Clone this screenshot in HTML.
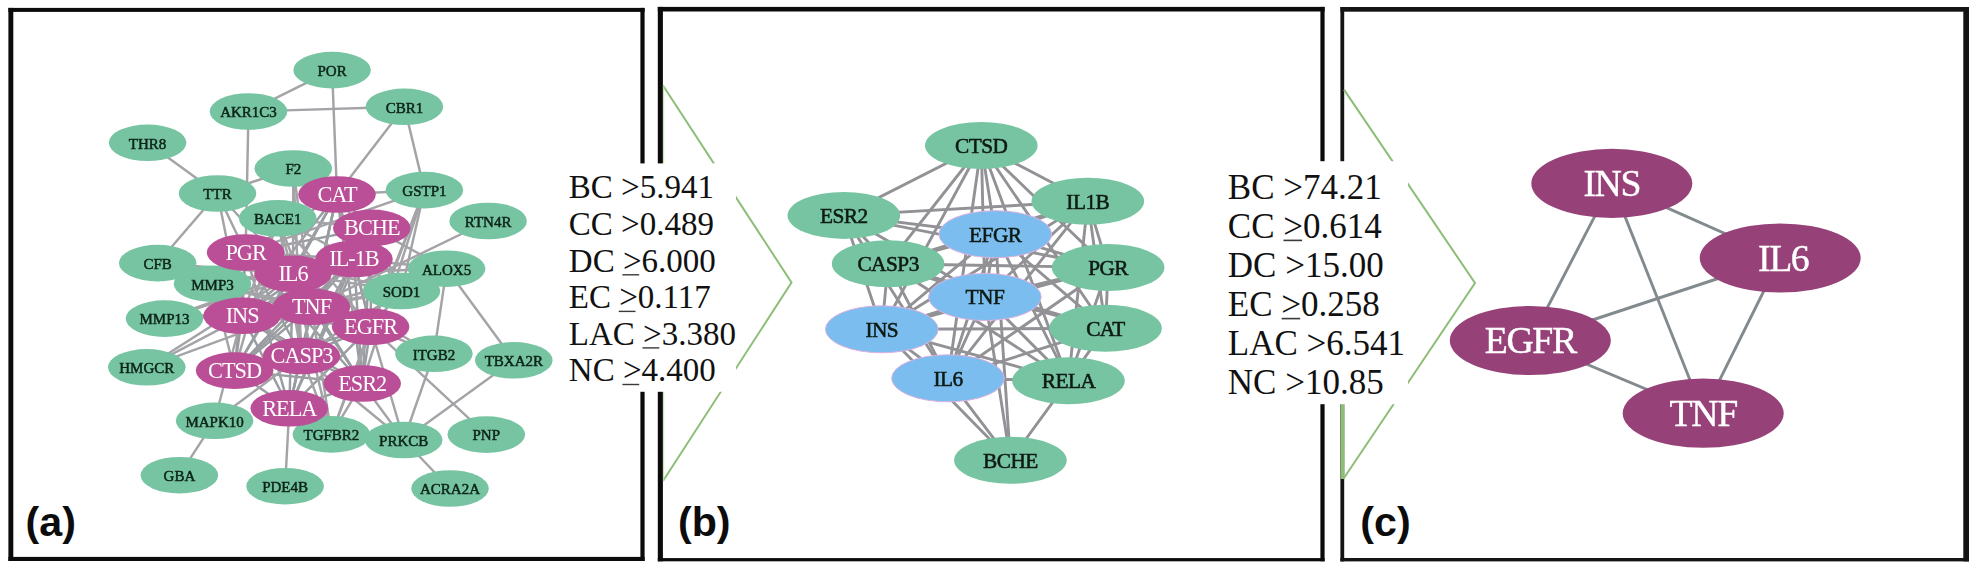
<!DOCTYPE html>
<html><head><meta charset="utf-8"><title>network</title>
<style>
html,body{margin:0;padding:0;background:#fff;}
body{width:1974px;height:568px;overflow:hidden;}
svg{display:block;font-family:"Liberation Serif",serif;}
.lab{font-family:"Liberation Sans",sans-serif;font-weight:bold;}
</style></head><body>
<svg width="1974" height="568" viewBox="0 0 1974 568">
<rect x="0" y="0" width="1974" height="568" fill="#ffffff"/>

<g fill="#0c0a0a"><rect x="8.4" y="7.9" width="4.90" height="553.10"/><rect x="640.4" y="7.9" width="4.20" height="553.10"/><rect x="8.4" y="7.9" width="636.20" height="4.00"/><rect x="8.4" y="556.9" width="636.20" height="4.10"/></g>
<g fill="#0c0a0a"><rect x="657.8" y="6.9" width="5.10" height="554.40"/><rect x="1320.4" y="6.9" width="4.20" height="554.40"/><rect x="657.8" y="6.9" width="666.80" height="4.60"/><rect x="657.8" y="558.1" width="666.80" height="3.20"/></g>
<g fill="#141414"><rect x="1340.4" y="7.0" width="3.80" height="554.40"/><rect x="1963.3" y="7.0" width="5.70" height="554.40"/><rect x="1340.4" y="7.0" width="628.60" height="4.70"/><rect x="1340.4" y="558.0" width="628.60" height="3.40"/></g>
<g fill="none" stroke="#8dbd78" stroke-width="2" stroke-linejoin="miter">
<polyline points="663.0,85.5 791.5,282.5 663.0,481"/>
<polyline points="1344.0,89.6 1475,283 1343.3,479"/>
</g>
<rect x="662.2" y="86" width="1.1" height="395" fill="#2a3a1c"/>
<rect x="663.3" y="86" width="1.0" height="395" fill="#dcecd0"/>
<rect x="1340.6" y="404" width="3.9" height="75" fill="#8dbd78"/>
<g style="filter:blur(0.45px)">
<g stroke-linecap="round">
<line x1="337.0" y1="194.5" x2="371.8" y2="227.9" stroke="#999da1" stroke-width="2.45"/>
<line x1="337.0" y1="194.5" x2="245.6" y2="252.5" stroke="#999da1" stroke-width="2.45"/>
<line x1="337.0" y1="194.5" x2="293.0" y2="273.8" stroke="#999da1" stroke-width="2.45"/>
<line x1="337.0" y1="194.5" x2="354.0" y2="259.0" stroke="#999da1" stroke-width="2.45"/>
<line x1="337.0" y1="194.5" x2="311.5" y2="306.8" stroke="#999da1" stroke-width="2.45"/>
<line x1="337.0" y1="194.5" x2="242.1" y2="315.8" stroke="#999da1" stroke-width="2.45"/>
<line x1="337.0" y1="194.5" x2="370.6" y2="326.8" stroke="#999da1" stroke-width="2.45"/>
<line x1="337.0" y1="194.5" x2="301.5" y2="356.0" stroke="#999da1" stroke-width="2.45"/>
<line x1="337.0" y1="194.5" x2="234.6" y2="370.6" stroke="#999da1" stroke-width="2.45"/>
<line x1="337.0" y1="194.5" x2="362.2" y2="383.5" stroke="#999da1" stroke-width="2.45"/>
<line x1="337.0" y1="194.5" x2="289.3" y2="408.3" stroke="#999da1" stroke-width="2.45"/>
<line x1="371.8" y1="227.9" x2="245.6" y2="252.5" stroke="#999da1" stroke-width="2.45"/>
<line x1="371.8" y1="227.9" x2="293.0" y2="273.8" stroke="#999da1" stroke-width="2.45"/>
<line x1="371.8" y1="227.9" x2="354.0" y2="259.0" stroke="#999da1" stroke-width="2.45"/>
<line x1="371.8" y1="227.9" x2="311.5" y2="306.8" stroke="#999da1" stroke-width="2.45"/>
<line x1="371.8" y1="227.9" x2="242.1" y2="315.8" stroke="#999da1" stroke-width="2.45"/>
<line x1="371.8" y1="227.9" x2="370.6" y2="326.8" stroke="#999da1" stroke-width="2.45"/>
<line x1="371.8" y1="227.9" x2="301.5" y2="356.0" stroke="#999da1" stroke-width="2.45"/>
<line x1="371.8" y1="227.9" x2="234.6" y2="370.6" stroke="#999da1" stroke-width="2.45"/>
<line x1="371.8" y1="227.9" x2="362.2" y2="383.5" stroke="#999da1" stroke-width="2.45"/>
<line x1="371.8" y1="227.9" x2="289.3" y2="408.3" stroke="#999da1" stroke-width="2.45"/>
<line x1="245.6" y1="252.5" x2="293.0" y2="273.8" stroke="#999da1" stroke-width="2.45"/>
<line x1="245.6" y1="252.5" x2="354.0" y2="259.0" stroke="#999da1" stroke-width="2.45"/>
<line x1="245.6" y1="252.5" x2="311.5" y2="306.8" stroke="#999da1" stroke-width="2.45"/>
<line x1="245.6" y1="252.5" x2="242.1" y2="315.8" stroke="#999da1" stroke-width="2.45"/>
<line x1="245.6" y1="252.5" x2="370.6" y2="326.8" stroke="#999da1" stroke-width="2.45"/>
<line x1="245.6" y1="252.5" x2="301.5" y2="356.0" stroke="#999da1" stroke-width="2.45"/>
<line x1="245.6" y1="252.5" x2="234.6" y2="370.6" stroke="#999da1" stroke-width="2.45"/>
<line x1="245.6" y1="252.5" x2="362.2" y2="383.5" stroke="#999da1" stroke-width="2.45"/>
<line x1="245.6" y1="252.5" x2="289.3" y2="408.3" stroke="#999da1" stroke-width="2.45"/>
<line x1="293.0" y1="273.8" x2="354.0" y2="259.0" stroke="#999da1" stroke-width="2.45"/>
<line x1="293.0" y1="273.8" x2="311.5" y2="306.8" stroke="#999da1" stroke-width="2.45"/>
<line x1="293.0" y1="273.8" x2="242.1" y2="315.8" stroke="#999da1" stroke-width="2.45"/>
<line x1="293.0" y1="273.8" x2="370.6" y2="326.8" stroke="#999da1" stroke-width="2.45"/>
<line x1="293.0" y1="273.8" x2="301.5" y2="356.0" stroke="#999da1" stroke-width="2.45"/>
<line x1="293.0" y1="273.8" x2="234.6" y2="370.6" stroke="#999da1" stroke-width="2.45"/>
<line x1="293.0" y1="273.8" x2="362.2" y2="383.5" stroke="#999da1" stroke-width="2.45"/>
<line x1="293.0" y1="273.8" x2="289.3" y2="408.3" stroke="#999da1" stroke-width="2.45"/>
<line x1="354.0" y1="259.0" x2="311.5" y2="306.8" stroke="#999da1" stroke-width="2.45"/>
<line x1="354.0" y1="259.0" x2="242.1" y2="315.8" stroke="#999da1" stroke-width="2.45"/>
<line x1="354.0" y1="259.0" x2="370.6" y2="326.8" stroke="#999da1" stroke-width="2.45"/>
<line x1="354.0" y1="259.0" x2="301.5" y2="356.0" stroke="#999da1" stroke-width="2.45"/>
<line x1="354.0" y1="259.0" x2="234.6" y2="370.6" stroke="#999da1" stroke-width="2.45"/>
<line x1="354.0" y1="259.0" x2="362.2" y2="383.5" stroke="#999da1" stroke-width="2.45"/>
<line x1="354.0" y1="259.0" x2="289.3" y2="408.3" stroke="#999da1" stroke-width="2.45"/>
<line x1="311.5" y1="306.8" x2="242.1" y2="315.8" stroke="#999da1" stroke-width="2.45"/>
<line x1="311.5" y1="306.8" x2="370.6" y2="326.8" stroke="#999da1" stroke-width="2.45"/>
<line x1="311.5" y1="306.8" x2="301.5" y2="356.0" stroke="#999da1" stroke-width="2.45"/>
<line x1="311.5" y1="306.8" x2="234.6" y2="370.6" stroke="#999da1" stroke-width="2.45"/>
<line x1="311.5" y1="306.8" x2="362.2" y2="383.5" stroke="#999da1" stroke-width="2.45"/>
<line x1="311.5" y1="306.8" x2="289.3" y2="408.3" stroke="#999da1" stroke-width="2.45"/>
<line x1="242.1" y1="315.8" x2="370.6" y2="326.8" stroke="#999da1" stroke-width="2.45"/>
<line x1="242.1" y1="315.8" x2="301.5" y2="356.0" stroke="#999da1" stroke-width="2.45"/>
<line x1="242.1" y1="315.8" x2="234.6" y2="370.6" stroke="#999da1" stroke-width="2.45"/>
<line x1="242.1" y1="315.8" x2="362.2" y2="383.5" stroke="#999da1" stroke-width="2.45"/>
<line x1="242.1" y1="315.8" x2="289.3" y2="408.3" stroke="#999da1" stroke-width="2.45"/>
<line x1="370.6" y1="326.8" x2="301.5" y2="356.0" stroke="#999da1" stroke-width="2.45"/>
<line x1="370.6" y1="326.8" x2="234.6" y2="370.6" stroke="#999da1" stroke-width="2.45"/>
<line x1="370.6" y1="326.8" x2="362.2" y2="383.5" stroke="#999da1" stroke-width="2.45"/>
<line x1="370.6" y1="326.8" x2="289.3" y2="408.3" stroke="#999da1" stroke-width="2.45"/>
<line x1="301.5" y1="356.0" x2="234.6" y2="370.6" stroke="#999da1" stroke-width="2.45"/>
<line x1="301.5" y1="356.0" x2="362.2" y2="383.5" stroke="#999da1" stroke-width="2.45"/>
<line x1="301.5" y1="356.0" x2="289.3" y2="408.3" stroke="#999da1" stroke-width="2.45"/>
<line x1="234.6" y1="370.6" x2="362.2" y2="383.5" stroke="#999da1" stroke-width="2.45"/>
<line x1="234.6" y1="370.6" x2="289.3" y2="408.3" stroke="#999da1" stroke-width="2.45"/>
<line x1="362.2" y1="383.5" x2="289.3" y2="408.3" stroke="#999da1" stroke-width="2.45"/>
<line x1="332.1" y1="70.1" x2="248.5" y2="111.5" stroke="#a4a4a8" stroke-width="2.45"/>
<line x1="332.1" y1="70.1" x2="337.0" y2="194.5" stroke="#a4a4a8" stroke-width="2.45"/>
<line x1="248.5" y1="111.5" x2="404.4" y2="106.8" stroke="#a4a4a8" stroke-width="2.45"/>
<line x1="248.5" y1="111.5" x2="245.6" y2="252.5" stroke="#a4a4a8" stroke-width="2.45"/>
<line x1="404.4" y1="106.8" x2="337.0" y2="194.5" stroke="#a4a4a8" stroke-width="2.45"/>
<line x1="404.4" y1="106.8" x2="424.4" y2="190.1" stroke="#a4a4a8" stroke-width="2.45"/>
<line x1="337.0" y1="194.5" x2="424.4" y2="190.1" stroke="#a4a4a8" stroke-width="2.45"/>
<line x1="147.6" y1="142.8" x2="217.5" y2="193.5" stroke="#a4a4a8" stroke-width="2.45"/>
<line x1="217.5" y1="193.5" x2="157.7" y2="263.1" stroke="#a4a4a8" stroke-width="2.45"/>
<line x1="217.5" y1="193.5" x2="293.3" y2="168.5" stroke="#a4a4a8" stroke-width="2.45"/>
<line x1="217.5" y1="193.5" x2="245.6" y2="252.5" stroke="#a4a4a8" stroke-width="2.45"/>
<line x1="217.5" y1="193.5" x2="293.0" y2="273.8" stroke="#a4a4a8" stroke-width="2.45"/>
<line x1="217.5" y1="193.5" x2="242.1" y2="315.8" stroke="#a4a4a8" stroke-width="2.45"/>
<line x1="293.3" y1="168.5" x2="293.0" y2="273.8" stroke="#a4a4a8" stroke-width="2.45"/>
<line x1="293.3" y1="168.5" x2="311.5" y2="306.8" stroke="#a4a4a8" stroke-width="2.45"/>
<line x1="293.3" y1="168.5" x2="301.5" y2="356.0" stroke="#a4a4a8" stroke-width="2.45"/>
<line x1="277.7" y1="218.3" x2="293.0" y2="273.8" stroke="#a4a4a8" stroke-width="2.45"/>
<line x1="277.7" y1="218.3" x2="311.5" y2="306.8" stroke="#a4a4a8" stroke-width="2.45"/>
<line x1="277.7" y1="218.3" x2="354.0" y2="259.0" stroke="#a4a4a8" stroke-width="2.45"/>
<line x1="277.7" y1="218.3" x2="242.1" y2="315.8" stroke="#a4a4a8" stroke-width="2.45"/>
<line x1="277.7" y1="218.3" x2="370.6" y2="326.8" stroke="#a4a4a8" stroke-width="2.45"/>
<line x1="277.7" y1="218.3" x2="301.5" y2="356.0" stroke="#a4a4a8" stroke-width="2.45"/>
<line x1="277.7" y1="218.3" x2="234.6" y2="370.6" stroke="#a4a4a8" stroke-width="2.45"/>
<line x1="277.7" y1="218.3" x2="371.8" y2="227.9" stroke="#a4a4a8" stroke-width="2.45"/>
<line x1="424.4" y1="190.1" x2="245.6" y2="252.5" stroke="#a4a4a8" stroke-width="2.45"/>
<line x1="424.4" y1="190.1" x2="370.6" y2="326.8" stroke="#a4a4a8" stroke-width="2.45"/>
<line x1="424.4" y1="190.1" x2="362.2" y2="383.5" stroke="#a4a4a8" stroke-width="2.45"/>
<line x1="424.4" y1="190.1" x2="331.4" y2="434.4" stroke="#a4a4a8" stroke-width="2.45"/>
<line x1="424.4" y1="190.1" x2="401.5" y2="291.0" stroke="#a4a4a8" stroke-width="2.45"/>
<line x1="488.1" y1="221.0" x2="311.5" y2="306.8" stroke="#a4a4a8" stroke-width="2.45"/>
<line x1="446.6" y1="268.7" x2="513.8" y2="360.3" stroke="#a4a4a8" stroke-width="2.45"/>
<line x1="446.6" y1="268.7" x2="433.9" y2="353.8" stroke="#a4a4a8" stroke-width="2.45"/>
<line x1="446.6" y1="268.7" x2="354.0" y2="259.0" stroke="#a4a4a8" stroke-width="2.45"/>
<line x1="446.6" y1="268.7" x2="371.8" y2="227.9" stroke="#a4a4a8" stroke-width="2.45"/>
<line x1="446.6" y1="268.7" x2="311.5" y2="306.8" stroke="#a4a4a8" stroke-width="2.45"/>
<line x1="446.6" y1="268.7" x2="293.0" y2="273.8" stroke="#a4a4a8" stroke-width="2.45"/>
<line x1="401.5" y1="291.0" x2="311.5" y2="306.8" stroke="#a4a4a8" stroke-width="2.45"/>
<line x1="401.5" y1="291.0" x2="293.0" y2="273.8" stroke="#a4a4a8" stroke-width="2.45"/>
<line x1="401.5" y1="291.0" x2="354.0" y2="259.0" stroke="#a4a4a8" stroke-width="2.45"/>
<line x1="401.5" y1="291.0" x2="337.0" y2="194.5" stroke="#a4a4a8" stroke-width="2.45"/>
<line x1="401.5" y1="291.0" x2="242.1" y2="315.8" stroke="#a4a4a8" stroke-width="2.45"/>
<line x1="401.5" y1="291.0" x2="370.6" y2="326.8" stroke="#a4a4a8" stroke-width="2.45"/>
<line x1="401.5" y1="291.0" x2="301.5" y2="356.0" stroke="#a4a4a8" stroke-width="2.45"/>
<line x1="401.5" y1="291.0" x2="371.8" y2="227.9" stroke="#a4a4a8" stroke-width="2.45"/>
<line x1="401.5" y1="291.0" x2="245.6" y2="252.5" stroke="#a4a4a8" stroke-width="2.45"/>
<line x1="157.7" y1="263.1" x2="212.5" y2="283.7" stroke="#a4a4a8" stroke-width="2.45"/>
<line x1="157.7" y1="263.1" x2="293.0" y2="273.8" stroke="#a4a4a8" stroke-width="2.45"/>
<line x1="212.5" y1="283.7" x2="293.0" y2="273.8" stroke="#a4a4a8" stroke-width="2.45"/>
<line x1="212.5" y1="283.7" x2="311.5" y2="306.8" stroke="#a4a4a8" stroke-width="2.45"/>
<line x1="212.5" y1="283.7" x2="242.1" y2="315.8" stroke="#a4a4a8" stroke-width="2.45"/>
<line x1="212.5" y1="283.7" x2="354.0" y2="259.0" stroke="#a4a4a8" stroke-width="2.45"/>
<line x1="212.5" y1="283.7" x2="301.5" y2="356.0" stroke="#a4a4a8" stroke-width="2.45"/>
<line x1="212.5" y1="283.7" x2="234.6" y2="370.6" stroke="#a4a4a8" stroke-width="2.45"/>
<line x1="212.5" y1="283.7" x2="370.6" y2="326.8" stroke="#a4a4a8" stroke-width="2.45"/>
<line x1="212.5" y1="283.7" x2="245.6" y2="252.5" stroke="#a4a4a8" stroke-width="2.45"/>
<line x1="164.5" y1="318.6" x2="242.1" y2="315.8" stroke="#a4a4a8" stroke-width="2.45"/>
<line x1="164.5" y1="318.6" x2="311.5" y2="306.8" stroke="#a4a4a8" stroke-width="2.45"/>
<line x1="164.5" y1="318.6" x2="293.0" y2="273.8" stroke="#a4a4a8" stroke-width="2.45"/>
<line x1="164.5" y1="318.6" x2="354.0" y2="259.0" stroke="#a4a4a8" stroke-width="2.45"/>
<line x1="146.8" y1="367.3" x2="311.5" y2="306.8" stroke="#a4a4a8" stroke-width="2.45"/>
<line x1="146.8" y1="367.3" x2="293.0" y2="273.8" stroke="#a4a4a8" stroke-width="2.45"/>
<line x1="146.8" y1="367.3" x2="354.0" y2="259.0" stroke="#a4a4a8" stroke-width="2.45"/>
<line x1="214.6" y1="420.8" x2="301.5" y2="356.0" stroke="#a4a4a8" stroke-width="2.45"/>
<line x1="214.6" y1="420.8" x2="179.4" y2="475.2" stroke="#a4a4a8" stroke-width="2.45"/>
<line x1="214.6" y1="420.8" x2="242.1" y2="315.8" stroke="#a4a4a8" stroke-width="2.45"/>
<line x1="289.3" y1="408.3" x2="285.1" y2="486.2" stroke="#a4a4a8" stroke-width="2.45"/>
<line x1="331.4" y1="434.4" x2="362.2" y2="383.5" stroke="#a4a4a8" stroke-width="2.45"/>
<line x1="331.4" y1="434.4" x2="301.5" y2="356.0" stroke="#a4a4a8" stroke-width="2.45"/>
<line x1="331.4" y1="434.4" x2="370.6" y2="326.8" stroke="#a4a4a8" stroke-width="2.45"/>
<line x1="331.4" y1="434.4" x2="311.5" y2="306.8" stroke="#a4a4a8" stroke-width="2.45"/>
<line x1="331.4" y1="434.4" x2="293.0" y2="273.8" stroke="#a4a4a8" stroke-width="2.45"/>
<line x1="403.7" y1="440.0" x2="362.2" y2="383.5" stroke="#a4a4a8" stroke-width="2.45"/>
<line x1="403.7" y1="440.0" x2="370.6" y2="326.8" stroke="#a4a4a8" stroke-width="2.45"/>
<line x1="403.7" y1="440.0" x2="433.9" y2="353.8" stroke="#a4a4a8" stroke-width="2.45"/>
<line x1="403.7" y1="440.0" x2="513.8" y2="360.3" stroke="#a4a4a8" stroke-width="2.45"/>
<line x1="403.7" y1="440.0" x2="450.0" y2="488.5" stroke="#a4a4a8" stroke-width="2.45"/>
<line x1="403.7" y1="440.0" x2="301.5" y2="356.0" stroke="#a4a4a8" stroke-width="2.45"/>
<line x1="486.3" y1="434.6" x2="370.6" y2="326.8" stroke="#a4a4a8" stroke-width="2.45"/>
<line x1="433.9" y1="353.8" x2="370.6" y2="326.8" stroke="#a4a4a8" stroke-width="2.45"/>
<line x1="433.9" y1="353.8" x2="293.0" y2="273.8" stroke="#a4a4a8" stroke-width="2.45"/>
</g>
<ellipse cx="332.1" cy="70.1" rx="38.8" ry="18.3" fill="#77c4a2"/>
<ellipse cx="248.5" cy="111.5" rx="38.8" ry="18.3" fill="#77c4a2"/>
<ellipse cx="404.4" cy="106.8" rx="38.8" ry="18.3" fill="#77c4a2"/>
<ellipse cx="147.6" cy="142.8" rx="38.8" ry="18.3" fill="#77c4a2"/>
<ellipse cx="293.3" cy="168.5" rx="38.8" ry="18.3" fill="#77c4a2"/>
<ellipse cx="217.5" cy="193.5" rx="38.8" ry="18.3" fill="#77c4a2"/>
<ellipse cx="424.4" cy="190.1" rx="38.8" ry="18.3" fill="#77c4a2"/>
<ellipse cx="277.7" cy="218.3" rx="38.8" ry="18.3" fill="#77c4a2"/>
<ellipse cx="488.1" cy="221.0" rx="38.8" ry="18.3" fill="#77c4a2"/>
<ellipse cx="157.7" cy="263.1" rx="38.8" ry="18.3" fill="#77c4a2"/>
<ellipse cx="212.5" cy="283.7" rx="38.8" ry="18.3" fill="#77c4a2"/>
<ellipse cx="446.6" cy="268.7" rx="38.8" ry="18.3" fill="#77c4a2"/>
<ellipse cx="401.5" cy="291.0" rx="38.8" ry="18.3" fill="#77c4a2"/>
<ellipse cx="164.5" cy="318.6" rx="38.8" ry="18.3" fill="#77c4a2"/>
<ellipse cx="146.8" cy="367.3" rx="38.8" ry="18.3" fill="#77c4a2"/>
<ellipse cx="433.9" cy="353.8" rx="38.8" ry="18.3" fill="#77c4a2"/>
<ellipse cx="513.8" cy="360.3" rx="38.8" ry="18.3" fill="#77c4a2"/>
<ellipse cx="214.6" cy="420.8" rx="38.8" ry="18.3" fill="#77c4a2"/>
<ellipse cx="331.4" cy="434.4" rx="38.8" ry="18.3" fill="#77c4a2"/>
<ellipse cx="403.7" cy="440.0" rx="38.8" ry="18.3" fill="#77c4a2"/>
<ellipse cx="486.3" cy="434.6" rx="38.8" ry="18.3" fill="#77c4a2"/>
<ellipse cx="179.4" cy="475.2" rx="38.8" ry="18.3" fill="#77c4a2"/>
<ellipse cx="285.1" cy="486.2" rx="38.8" ry="18.3" fill="#77c4a2"/>
<ellipse cx="450.0" cy="488.5" rx="38.8" ry="18.3" fill="#77c4a2"/>
<ellipse cx="337.0" cy="194.5" rx="38.8" ry="18.3" fill="#ba4f97"/>
<ellipse cx="371.8" cy="227.9" rx="38.8" ry="18.3" fill="#ba4f97"/>
<ellipse cx="245.6" cy="252.5" rx="38.8" ry="18.3" fill="#ba4f97"/>
<ellipse cx="293.0" cy="273.8" rx="38.8" ry="18.3" fill="#ba4f97"/>
<ellipse cx="354.0" cy="259.0" rx="38.8" ry="18.3" fill="#ba4f97"/>
<ellipse cx="311.5" cy="306.8" rx="38.8" ry="18.3" fill="#ba4f97"/>
<ellipse cx="242.1" cy="315.8" rx="38.8" ry="18.3" fill="#ba4f97"/>
<ellipse cx="370.6" cy="326.8" rx="38.8" ry="18.3" fill="#ba4f97"/>
<ellipse cx="301.5" cy="356.0" rx="38.8" ry="18.3" fill="#ba4f97"/>
<ellipse cx="234.6" cy="370.6" rx="38.8" ry="18.3" fill="#ba4f97"/>
<ellipse cx="362.2" cy="383.5" rx="38.8" ry="18.3" fill="#ba4f97"/>
<ellipse cx="289.3" cy="408.3" rx="38.8" ry="18.3" fill="#ba4f97"/>
<g stroke="#0c2418" stroke-width="0.5">
<text x="332.1" y="75.9" font-size="15.0" fill="#0c2418" letter-spacing="0" text-anchor="middle">POR</text>
<text x="248.5" y="117.3" font-size="15.0" fill="#0c2418" letter-spacing="0" text-anchor="middle">AKR1C3</text>
<text x="404.4" y="112.6" font-size="15.0" fill="#0c2418" letter-spacing="0" text-anchor="middle">CBR1</text>
<text x="147.6" y="148.6" font-size="15.0" fill="#0c2418" letter-spacing="0" text-anchor="middle">THR8</text>
<text x="293.3" y="174.3" font-size="15.0" fill="#0c2418" letter-spacing="0" text-anchor="middle">F2</text>
<text x="217.5" y="199.3" font-size="15.0" fill="#0c2418" letter-spacing="0" text-anchor="middle">TTR</text>
<text x="424.4" y="195.9" font-size="15.0" fill="#0c2418" letter-spacing="0" text-anchor="middle">GSTP1</text>
<text x="277.7" y="224.1" font-size="15.0" fill="#0c2418" letter-spacing="0" text-anchor="middle">BACE1</text>
<text x="488.1" y="226.8" font-size="15.0" fill="#0c2418" letter-spacing="0" text-anchor="middle">RTN4R</text>
<text x="157.7" y="268.9" font-size="15.0" fill="#0c2418" letter-spacing="0" text-anchor="middle">CFB</text>
<text x="212.5" y="289.5" font-size="15.0" fill="#0c2418" letter-spacing="0" text-anchor="middle">MMP3</text>
<text x="446.6" y="274.5" font-size="15.0" fill="#0c2418" letter-spacing="0" text-anchor="middle">ALOX5</text>
<text x="401.5" y="296.8" font-size="15.0" fill="#0c2418" letter-spacing="0" text-anchor="middle">SOD1</text>
<text x="164.5" y="324.4" font-size="15.0" fill="#0c2418" letter-spacing="0" text-anchor="middle">MMP13</text>
<text x="146.8" y="373.1" font-size="15.0" fill="#0c2418" letter-spacing="0" text-anchor="middle">HMGCR</text>
<text x="433.9" y="359.6" font-size="15.0" fill="#0c2418" letter-spacing="0" text-anchor="middle">ITGB2</text>
<text x="513.8" y="366.1" font-size="15.0" fill="#0c2418" letter-spacing="0" text-anchor="middle">TBXA2R</text>
<text x="214.6" y="426.6" font-size="15.0" fill="#0c2418" letter-spacing="0" text-anchor="middle">MAPK10</text>
<text x="331.4" y="440.2" font-size="15.0" fill="#0c2418" letter-spacing="0" text-anchor="middle">TGFBR2</text>
<text x="403.7" y="445.8" font-size="15.0" fill="#0c2418" letter-spacing="0" text-anchor="middle">PRKCB</text>
<text x="486.3" y="440.4" font-size="15.0" fill="#0c2418" letter-spacing="0" text-anchor="middle">PNP</text>
<text x="179.4" y="481.0" font-size="15.0" fill="#0c2418" letter-spacing="0" text-anchor="middle">GBA</text>
<text x="285.1" y="492.0" font-size="15.0" fill="#0c2418" letter-spacing="0" text-anchor="middle">PDE4B</text>
<text x="450.0" y="494.3" font-size="15.0" fill="#0c2418" letter-spacing="0" text-anchor="middle">ACRA2A</text>
</g>
<text x="337.0" y="201.9" font-size="22.3" fill="#ffffff" letter-spacing="-1.0" text-anchor="middle">CAT</text>
<text x="371.8" y="235.3" font-size="22.3" fill="#ffffff" letter-spacing="-1.0" text-anchor="middle">BCHE</text>
<text x="245.6" y="259.9" font-size="22.3" fill="#ffffff" letter-spacing="-1.0" text-anchor="middle">PGR</text>
<text x="293.0" y="281.2" font-size="22.3" fill="#ffffff" letter-spacing="-1.0" text-anchor="middle">IL6</text>
<text x="354.0" y="266.4" font-size="22.3" fill="#ffffff" letter-spacing="-1.0" text-anchor="middle">IL-1B</text>
<text x="311.5" y="314.2" font-size="22.3" fill="#ffffff" letter-spacing="-1.0" text-anchor="middle">TNF</text>
<text x="242.1" y="323.2" font-size="22.3" fill="#ffffff" letter-spacing="-1.0" text-anchor="middle">INS</text>
<text x="370.6" y="334.2" font-size="22.3" fill="#ffffff" letter-spacing="-1.0" text-anchor="middle">EGFR</text>
<text x="301.5" y="363.4" font-size="22.3" fill="#ffffff" letter-spacing="-1.0" text-anchor="middle">CASP3</text>
<text x="234.6" y="378.0" font-size="22.3" fill="#ffffff" letter-spacing="-1.0" text-anchor="middle">CTSD</text>
<text x="362.2" y="390.9" font-size="22.3" fill="#ffffff" letter-spacing="-1.0" text-anchor="middle">ESR2</text>
<text x="289.3" y="415.7" font-size="22.3" fill="#ffffff" letter-spacing="-1.0" text-anchor="middle">RELA</text>
<g stroke-linecap="round">
<line x1="981.3" y1="145.5" x2="843.8" y2="215.4" stroke="#929296" stroke-width="2.9"/>
<line x1="981.3" y1="145.5" x2="1087.8" y2="201.3" stroke="#929296" stroke-width="2.9"/>
<line x1="981.3" y1="145.5" x2="888.1" y2="263.8" stroke="#929296" stroke-width="2.9"/>
<line x1="981.3" y1="145.5" x2="1108.1" y2="267.5" stroke="#929296" stroke-width="2.9"/>
<line x1="981.3" y1="145.5" x2="1105.5" y2="328.3" stroke="#929296" stroke-width="2.9"/>
<line x1="981.3" y1="145.5" x2="1068.5" y2="380.7" stroke="#929296" stroke-width="2.9"/>
<line x1="981.3" y1="145.5" x2="995.3" y2="234.2" stroke="#929296" stroke-width="2.9"/>
<line x1="981.3" y1="145.5" x2="984.9" y2="297.0" stroke="#929296" stroke-width="2.9"/>
<line x1="981.3" y1="145.5" x2="881.8" y2="329.3" stroke="#929296" stroke-width="2.9"/>
<line x1="981.3" y1="145.5" x2="948.0" y2="378.3" stroke="#929296" stroke-width="2.9"/>
<line x1="843.8" y1="215.4" x2="1087.8" y2="201.3" stroke="#929296" stroke-width="2.9"/>
<line x1="843.8" y1="215.4" x2="888.1" y2="263.8" stroke="#929296" stroke-width="2.9"/>
<line x1="843.8" y1="215.4" x2="1108.1" y2="267.5" stroke="#929296" stroke-width="2.9"/>
<line x1="843.8" y1="215.4" x2="995.3" y2="234.2" stroke="#929296" stroke-width="2.9"/>
<line x1="843.8" y1="215.4" x2="984.9" y2="297.0" stroke="#929296" stroke-width="2.9"/>
<line x1="843.8" y1="215.4" x2="881.8" y2="329.3" stroke="#929296" stroke-width="2.9"/>
<line x1="843.8" y1="215.4" x2="948.0" y2="378.3" stroke="#929296" stroke-width="2.9"/>
<line x1="1087.8" y1="201.3" x2="888.1" y2="263.8" stroke="#929296" stroke-width="2.9"/>
<line x1="1087.8" y1="201.3" x2="1108.1" y2="267.5" stroke="#929296" stroke-width="2.9"/>
<line x1="1087.8" y1="201.3" x2="1105.5" y2="328.3" stroke="#929296" stroke-width="2.9"/>
<line x1="1087.8" y1="201.3" x2="1068.5" y2="380.7" stroke="#929296" stroke-width="2.9"/>
<line x1="1087.8" y1="201.3" x2="995.3" y2="234.2" stroke="#929296" stroke-width="2.9"/>
<line x1="1087.8" y1="201.3" x2="984.9" y2="297.0" stroke="#929296" stroke-width="2.9"/>
<line x1="1087.8" y1="201.3" x2="881.8" y2="329.3" stroke="#929296" stroke-width="2.9"/>
<line x1="1087.8" y1="201.3" x2="948.0" y2="378.3" stroke="#929296" stroke-width="2.9"/>
<line x1="888.1" y1="263.8" x2="1108.1" y2="267.5" stroke="#929296" stroke-width="2.9"/>
<line x1="888.1" y1="263.8" x2="1105.5" y2="328.3" stroke="#929296" stroke-width="2.9"/>
<line x1="888.1" y1="263.8" x2="1068.5" y2="380.7" stroke="#929296" stroke-width="2.9"/>
<line x1="888.1" y1="263.8" x2="995.3" y2="234.2" stroke="#929296" stroke-width="2.9"/>
<line x1="888.1" y1="263.8" x2="984.9" y2="297.0" stroke="#929296" stroke-width="2.9"/>
<line x1="888.1" y1="263.8" x2="881.8" y2="329.3" stroke="#929296" stroke-width="2.9"/>
<line x1="888.1" y1="263.8" x2="948.0" y2="378.3" stroke="#929296" stroke-width="2.9"/>
<line x1="1108.1" y1="267.5" x2="1105.5" y2="328.3" stroke="#929296" stroke-width="2.9"/>
<line x1="1108.1" y1="267.5" x2="1068.5" y2="380.7" stroke="#929296" stroke-width="2.9"/>
<line x1="1108.1" y1="267.5" x2="995.3" y2="234.2" stroke="#929296" stroke-width="2.9"/>
<line x1="1108.1" y1="267.5" x2="984.9" y2="297.0" stroke="#929296" stroke-width="2.9"/>
<line x1="1108.1" y1="267.5" x2="881.8" y2="329.3" stroke="#929296" stroke-width="2.9"/>
<line x1="1108.1" y1="267.5" x2="948.0" y2="378.3" stroke="#929296" stroke-width="2.9"/>
<line x1="1105.5" y1="328.3" x2="1068.5" y2="380.7" stroke="#929296" stroke-width="2.9"/>
<line x1="1105.5" y1="328.3" x2="995.3" y2="234.2" stroke="#929296" stroke-width="2.9"/>
<line x1="1105.5" y1="328.3" x2="984.9" y2="297.0" stroke="#929296" stroke-width="2.9"/>
<line x1="1105.5" y1="328.3" x2="881.8" y2="329.3" stroke="#929296" stroke-width="2.9"/>
<line x1="1105.5" y1="328.3" x2="948.0" y2="378.3" stroke="#929296" stroke-width="2.9"/>
<line x1="1068.5" y1="380.7" x2="1010.4" y2="460.3" stroke="#929296" stroke-width="2.9"/>
<line x1="1068.5" y1="380.7" x2="995.3" y2="234.2" stroke="#929296" stroke-width="2.9"/>
<line x1="1068.5" y1="380.7" x2="984.9" y2="297.0" stroke="#929296" stroke-width="2.9"/>
<line x1="1068.5" y1="380.7" x2="881.8" y2="329.3" stroke="#929296" stroke-width="2.9"/>
<line x1="1068.5" y1="380.7" x2="948.0" y2="378.3" stroke="#929296" stroke-width="2.9"/>
<line x1="1010.4" y1="460.3" x2="995.3" y2="234.2" stroke="#929296" stroke-width="2.9"/>
<line x1="1010.4" y1="460.3" x2="984.9" y2="297.0" stroke="#929296" stroke-width="2.9"/>
<line x1="1010.4" y1="460.3" x2="881.8" y2="329.3" stroke="#929296" stroke-width="2.9"/>
<line x1="1010.4" y1="460.3" x2="948.0" y2="378.3" stroke="#929296" stroke-width="2.9"/>
<line x1="995.3" y1="234.2" x2="984.9" y2="297.0" stroke="#929296" stroke-width="2.9"/>
<line x1="995.3" y1="234.2" x2="881.8" y2="329.3" stroke="#929296" stroke-width="2.9"/>
<line x1="995.3" y1="234.2" x2="948.0" y2="378.3" stroke="#929296" stroke-width="2.9"/>
<line x1="984.9" y1="297.0" x2="881.8" y2="329.3" stroke="#929296" stroke-width="2.9"/>
<line x1="984.9" y1="297.0" x2="948.0" y2="378.3" stroke="#929296" stroke-width="2.9"/>
<line x1="881.8" y1="329.3" x2="948.0" y2="378.3" stroke="#929296" stroke-width="2.9"/>
</g>
<ellipse cx="981.3" cy="145.5" rx="56.3" ry="23.5" fill="#77c4a2"/>
<ellipse cx="843.8" cy="215.4" rx="56.3" ry="23.5" fill="#77c4a2"/>
<ellipse cx="1087.8" cy="201.3" rx="56.3" ry="23.5" fill="#77c4a2"/>
<ellipse cx="888.1" cy="263.8" rx="56.3" ry="23.5" fill="#77c4a2"/>
<ellipse cx="1108.1" cy="267.5" rx="56.3" ry="23.5" fill="#77c4a2"/>
<ellipse cx="1105.5" cy="328.3" rx="56.3" ry="23.5" fill="#77c4a2"/>
<ellipse cx="1068.5" cy="380.7" rx="56.3" ry="23.5" fill="#77c4a2"/>
<ellipse cx="1010.4" cy="460.3" rx="56.3" ry="23.5" fill="#77c4a2"/>
<ellipse cx="995.3" cy="234.2" rx="56.3" ry="23.5" fill="#7bbdee" stroke="#dcb0e0" stroke-width="1"/>
<ellipse cx="984.9" cy="297.0" rx="56.3" ry="23.5" fill="#7bbdee" stroke="#dcb0e0" stroke-width="1"/>
<ellipse cx="881.8" cy="329.3" rx="56.3" ry="23.5" fill="#7bbdee" stroke="#dcb0e0" stroke-width="1"/>
<ellipse cx="948.0" cy="378.3" rx="56.3" ry="23.5" fill="#7bbdee" stroke="#dcb0e0" stroke-width="1"/>
<g stroke="#0e1a14" stroke-width="0.55">
<text x="981.3" y="152.8" font-size="21.3" fill="#0e1a14" letter-spacing="-0.5" text-anchor="middle">CTSD</text>
<text x="843.8" y="222.7" font-size="21.3" fill="#0e1a14" letter-spacing="-0.5" text-anchor="middle">ESR2</text>
<text x="1087.8" y="208.6" font-size="21.3" fill="#0e1a14" letter-spacing="-0.5" text-anchor="middle">IL1B</text>
<text x="888.1" y="271.1" font-size="21.3" fill="#0e1a14" letter-spacing="-0.5" text-anchor="middle">CASP3</text>
<text x="1108.1" y="274.8" font-size="21.3" fill="#0e1a14" letter-spacing="-0.5" text-anchor="middle">PGR</text>
<text x="1105.5" y="335.6" font-size="21.3" fill="#0e1a14" letter-spacing="-0.5" text-anchor="middle">CAT</text>
<text x="1068.5" y="388.0" font-size="21.3" fill="#0e1a14" letter-spacing="-0.5" text-anchor="middle">RELA</text>
<text x="1010.4" y="467.6" font-size="21.3" fill="#0e1a14" letter-spacing="-0.5" text-anchor="middle">BCHE</text>
<text x="995.3" y="241.5" font-size="21.3" fill="#0e1a14" letter-spacing="-0.5" text-anchor="middle">EFGR</text>
<text x="984.9" y="304.3" font-size="21.3" fill="#0e1a14" letter-spacing="-0.5" text-anchor="middle">TNF</text>
<text x="881.8" y="336.6" font-size="21.3" fill="#0e1a14" letter-spacing="-0.5" text-anchor="middle">INS</text>
<text x="948.0" y="385.6" font-size="21.3" fill="#0e1a14" letter-spacing="-0.5" text-anchor="middle">IL6</text>
</g>
<line x1="1611.8" y1="183.4" x2="1780.2" y2="258.0" stroke="#838a8e" stroke-width="2.9"/>
<line x1="1611.8" y1="183.4" x2="1530.3" y2="340.5" stroke="#838a8e" stroke-width="2.9"/>
<line x1="1611.8" y1="183.4" x2="1703.2" y2="413.2" stroke="#838a8e" stroke-width="2.9"/>
<line x1="1780.2" y1="258.0" x2="1530.3" y2="340.5" stroke="#838a8e" stroke-width="2.9"/>
<line x1="1780.2" y1="258.0" x2="1703.2" y2="413.2" stroke="#838a8e" stroke-width="2.9"/>
<line x1="1530.3" y1="340.5" x2="1703.2" y2="413.2" stroke="#838a8e" stroke-width="2.9"/>
<ellipse cx="1611.8" cy="183.4" rx="80.5" ry="34.6" fill="#964278"/>
<ellipse cx="1780.2" cy="258.0" rx="80.5" ry="34.6" fill="#964278"/>
<ellipse cx="1530.3" cy="340.5" rx="80.5" ry="34.6" fill="#964278"/>
<ellipse cx="1703.2" cy="413.2" rx="80.5" ry="34.6" fill="#964278"/>
<text x="1611.8" y="196.3" font-size="37.8" fill="#ffffff" letter-spacing="-1.4" text-anchor="middle" stroke="#ffffff" stroke-width="0.4">INS</text>
<text x="1783.2" y="270.9" font-size="37.8" fill="#ffffff" letter-spacing="-1.4" text-anchor="middle" stroke="#ffffff" stroke-width="0.4">IL6</text>
<text x="1530.3" y="353.4" font-size="37.8" fill="#ffffff" letter-spacing="-1.4" text-anchor="middle" stroke="#ffffff" stroke-width="0.4">EGFR</text>
<text x="1703.2" y="426.1" font-size="37.8" fill="#ffffff" letter-spacing="-1.4" text-anchor="middle" stroke="#ffffff" stroke-width="0.4">TNF</text>
</g>
<rect x="556" y="163.4" width="180" height="228.4" fill="#ffffff"/>
<rect x="1215" y="161.2" width="193" height="243" fill="#ffffff"/>
<g font-size="33" fill="#111111">
<text x="568.8" y="198.4">BC &gt;5.941</text>
<text x="568.8" y="235.0">CC &gt;0.489</text>
<text x="568.8" y="271.5">DC &gt;6.000</text>
<rect x="622.4" y="274.1" width="16.8" height="1.4" fill="#3a3a3a"/>
<text x="568.8" y="308.1">EC &gt;0.117</text>
<rect x="618.7" y="310.7" width="16.8" height="1.4" fill="#3a3a3a"/>
<text x="568.8" y="344.6">LAC &gt;3.380</text>
<rect x="642.5" y="347.2" width="16.8" height="1.4" fill="#3a3a3a"/>
<text x="568.8" y="381.2">NC &gt;4.400</text>
<rect x="622.4" y="383.8" width="16.8" height="1.4" fill="#3a3a3a"/>
</g>
<g font-size="35.0" fill="#111111">
<text x="1227.8" y="198.5">BC &gt;74.21</text>
<text x="1227.8" y="237.6">CC &gt;0.614</text>
<rect x="1283.5" y="239.6" width="18.6" height="1.6" fill="#3a3a3a"/>
<text x="1227.8" y="276.7">DC &gt;15.00</text>
<text x="1227.8" y="315.8">EC &gt;0.258</text>
<rect x="1281.6" y="317.8" width="18.6" height="1.6" fill="#3a3a3a"/>
<text x="1227.8" y="354.9">LAC &gt;6.541</text>
<text x="1227.8" y="394.0">NC &gt;10.85</text>
</g>
<g class="lab" font-size="41.2" fill="#0c0c0c">
<text x="25.6" y="536">(a)</text>
<text x="678" y="536">(b)</text>
<text x="1360.3" y="536">(c)</text>
</g>
</svg></body></html>
